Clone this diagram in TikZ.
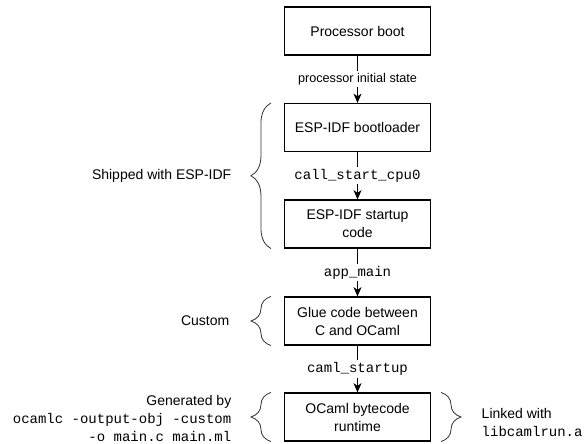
\documentclass[tikz,border=0pt]{standalone}
\usepackage{fontspec}
\setmainfont{Liberation Sans}
\setmonofont{Liberation Mono}
\usetikzlibrary{arrows.meta,calc,decorations.pathreplacing}
\tikzset{
  stagebox/.style={draw, thick, minimum width=109.5pt, minimum height=36pt, align=center, font=\fontsize{10.5}{13.5}\selectfont},
  flowarrow/.style={thick, -{Stealth[length=7pt,width=6pt,inset=2pt]}},
  flowlabel/.style={fill=white, inner sep=1.5pt, font=\fontsize{9.5}{12}\selectfont},
  monolabel/.style={fill=white, inner sep=1.5pt, font=\ttfamily\fontsize{10.5}{12}\selectfont},
  sidebrace/.style={decorate, decoration={brace, amplitude=15pt, aspect=0.5}, semithick, gray!40!black},
  sidetext/.style={font=\fontsize{10.5}{13.5}\selectfont}
}
\begin{document}
\begin{tikzpicture}[x=0.75pt,y=-0.75pt]
	\useasboundingbox (0,0) rectangle (588,443);
	% Boot chain
	\node[stagebox] (boot) at (357.5,31) {Processor boot};
	\node[stagebox] (bootloader) at (357.5,127.5) {ESP-IDF bootloader};
	\node[stagebox] (startup) at (357.5,224) {ESP-IDF startup\\code};
	\node[stagebox] (glue) at (357.5,321) {Glue code between\\C and OCaml};
	\node[stagebox] (runtime) at (357.5,417) {OCaml bytecode\\runtime};
	
	% Transitions
	\draw[flowarrow] (boot) -- node[flowlabel] {processor initial state} (bootloader);
	\draw[flowarrow] (bootloader) -- node[monolabel] {call\_start\_cpu0} (startup);
	\draw[flowarrow] (startup) -- node[monolabel] {app\_main} (glue);
	\draw[flowarrow] (glue) -- node[monolabel] {caml\_startup} (runtime);
	
	% Braces and side notes
	\draw[sidebrace] ($(startup.south west)+(-13,0)$) -- ($(bootloader.north west)+(-13,0)$);
	\draw[sidebrace] ($(glue.south west)+(-13,0)$) -- ($(glue.north west)+(-13,0)$);
	\draw[sidebrace] ($(runtime.south west)+(-13,0)$) -- ($(runtime.north west)+(-13,0)$);
	\draw[sidebrace] ($(runtime.north east)+(10,0)$) -- ($(runtime.south east)+(10,0)$);
	\node[sidetext, anchor=east] (shipped) at (236,176) {Shipped with ESP-IDF};
	\node[sidetext, anchor=east] (custom) at (234,321) {Custom};
	\node[sidetext, anchor=east, align=right] (generated) at (236,418) {Generated by\\\texttt{ocamlc -output-obj -custom}\\\texttt{-o main.c main.ml}};
	\node[sidetext, anchor=west, align=left] (linked) at (477,422) {Linked with\\\texttt{libcamlrun.a}};
\end{tikzpicture}
\end{document}
